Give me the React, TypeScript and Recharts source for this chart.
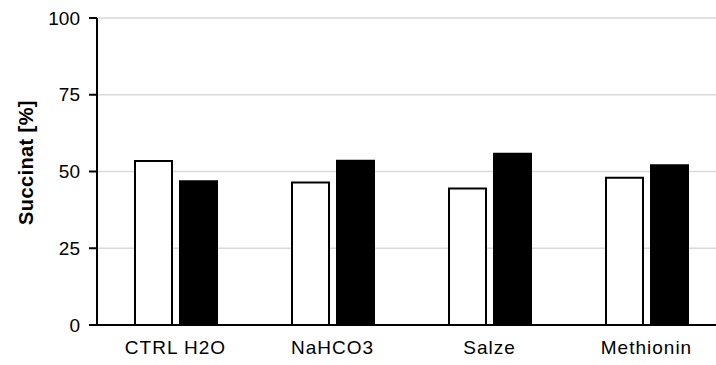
import React from 'react';
import { BarChart, Bar, XAxis, YAxis, CartesianGrid, Label } from 'recharts';

// values
const categories = ['CTRL H2O', 'NaHCO3', 'Salze', 'Methionin'];
const seriesA = [53.4, 46.4, 44.5, 48.0];
const seriesB = [46.8, 53.5, 55.8, 52.0];
const yTicks = [0, 25, 50, 75, 100];

const data = categories.map((name, i) => ({ name, a: seriesA[i], b: seriesB[i] }));

const font = 'Arial, "Liberation Sans", sans-serif';

const YLabel = (props: any) => {
  const vb = props.viewBox || {};
  const cx = 26;
  const cy = vb.y + vb.height / 2 - 9;
  return (
    <text
      x={cx}
      y={cy}
      transform={`rotate(-90, ${cx}, ${cy})`}
      textAnchor="middle"
      dominantBaseline="central"
      fontFamily={font}
      fontSize={20}
      fontWeight="bold"
      fill="#000"
      letterSpacing={0.4}
    >
      Succinat [%]
    </text>
  );
};

export default function App() {
  return (
    <div style={{ position: 'absolute', left: 0, top: 0, width: 716, height: 365, overflow: 'hidden', background: '#fff' }}>
      <BarChart
        width={740}
        height={365}
        data={data}
        margin={{ top: 18, right: 15, bottom: 0, left: 0 }}
        barSize={37}
        barGap={8}
      >
        <CartesianGrid vertical={false} stroke="#d9d9d9" strokeWidth={1.5} />
        <XAxis
          dataKey="name"
          height={40}
          axisLine={{ stroke: '#000', strokeWidth: 2 }}
          tickLine={false}
          tickMargin={10}
          tick={{ fontSize: 19, fill: '#000', fontFamily: font, letterSpacing: 1 }}
        />
        <YAxis
          width={97}
          domain={[0, 100]}
          ticks={yTicks}
          interval={0}
          axisLine={{ stroke: '#000', strokeWidth: 2 }}
          tickLine={{ stroke: '#000', strokeWidth: 2 }}
          tickSize={8}
          tickMargin={9}
          tick={{ fontSize: 19, fill: '#000', fontFamily: font }}
        >
          <Label content={<YLabel />} />
        </YAxis>
        <Bar dataKey="a" fill="#fff" stroke="#000" strokeWidth={2} isAnimationActive={false} />
        <Bar dataKey="b" fill="#000" stroke="#000" strokeWidth={2} isAnimationActive={false} />
      </BarChart>
    </div>
  );
}
